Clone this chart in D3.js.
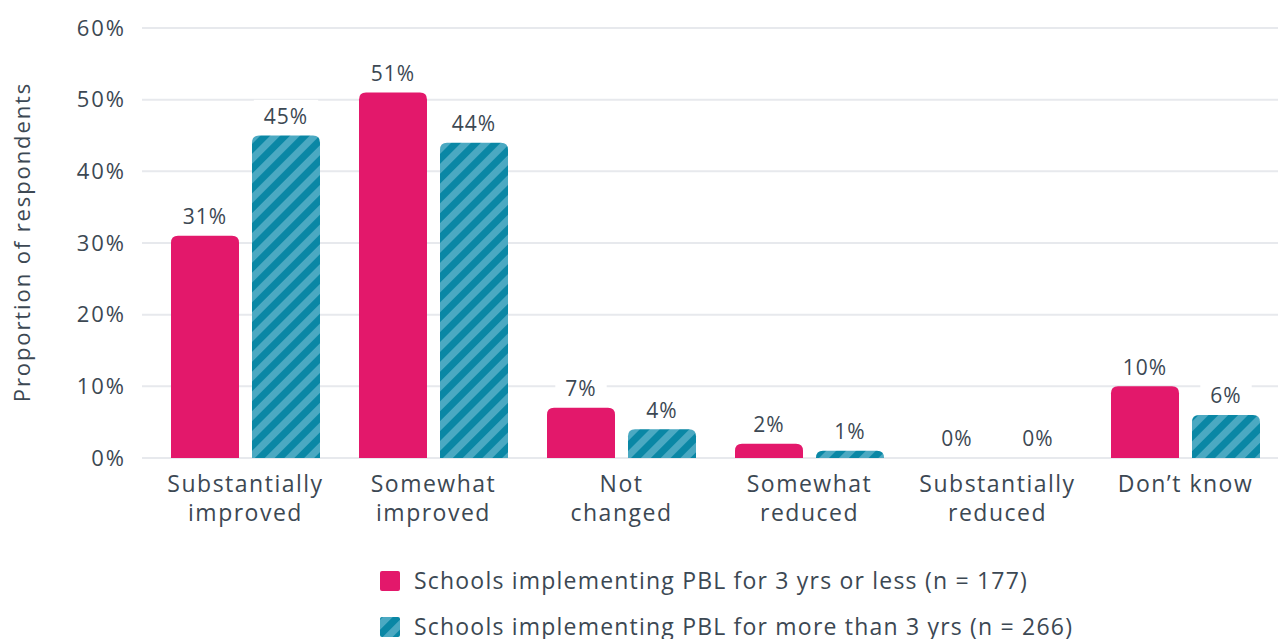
<!DOCTYPE html>
<html>
<head>
<meta charset="utf-8">
<script src="https://cdn.jsdelivr.net/npm/d3@7"></script>
<style>
  html, body { margin: 0; padding: 0; background: #ffffff; }
  svg { display: block; font-family: "Open Sans", "Noto Sans", sans-serif; }
</style>
</head>
<body>
<svg id="chart" width="1278" height="639"></svg>
<script>
// Survey responses by category, one value per school group
const categories = [
  ["Substantially", "improved"],
  ["Somewhat", "improved"],
  ["Not", "changed"],
  ["Somewhat", "reduced"],
  ["Substantially", "reduced"],
  ["Don\u2019t know"]
];
const shortTerm = [31, 51, 7, 2, 0, 10];
const longTerm = [45, 44, 4, 1, 0, 6];
const seriesNames = [
  "Schools implementing PBL for 3 yrs or less (n = 177)",
  "Schools implementing PBL for more than 3 yrs (n = 266)"
];
const yTicks = [0, 10, 20, 30, 40, 50, 60];

const textColor = "#3c4853";
const gridColor = "#e7e9ed";
const pink = "#e3186b";
const tealDark = "#0a87a5";
const tealLight = "#4ba9c2";

const svg = d3.select("#chart");
const margin = { left: 151.5, right: -1.5, top: 28, bottom: 181 };
const W = 1278, H = 639;

const x = d3.scaleBand()
  .domain(d3.range(categories.length))
  .range([margin.left, W - margin.right])
  .paddingInner(0).paddingOuter(0);
const y = d3.scaleLinear().domain([0, 60]).range([H - margin.bottom, margin.top]);

const barW = 68, gap = 13;

// Diagonal stripe fill for the second series
const defs = svg.append("defs");
const period = 14;
const pat = defs.append("pattern")
  .attr("id", "stripes")
  .attr("patternUnits", "userSpaceOnUse")
  .attr("width", period).attr("height", period)
  .attr("patternTransform", "rotate(45)");
pat.append("rect").attr("width", period).attr("height", period).attr("fill", tealLight);
pat.append("rect").attr("width", period / 2).attr("height", period).attr("fill", tealDark);

// Gridlines and y tick labels
const gridX0 = 142;
svg.append("g").selectAll("line").data(yTicks).join("line")
  .attr("x1", gridX0).attr("x2", W)
  .attr("y1", d => y(d)).attr("y2", d => y(d))
  .attr("stroke", gridColor).attr("stroke-width", 2);
svg.append("g").selectAll("text").data(yTicks).join("text")
  .attr("x", 126).attr("y", d => y(d))
  .attr("dy", "0.35em")
  .attr("text-anchor", "end")
  .attr("fill", textColor)
  .attr("font-size", 22)
  .attr("letter-spacing", 2)
  .text(d => d + "%");

// Y axis title
svg.append("text")
  .attr("transform", `translate(30, 242) rotate(-90)`)
  .attr("text-anchor", "middle")
  .attr("fill", textColor)
  .attr("font-size", 22)
  .attr("letter-spacing", 1.9)
  .text("Proportion of respondents");

// Bar path with rounded top corners
function topRounded(x0, y0, w, h, r) {
  r = Math.min(r, h, w / 2);
  if (h <= 0) return "";
  return `M${x0},${y0 + h}V${y0 + r}Q${x0},${y0} ${x0 + r},${y0}H${x0 + w - r}Q${x0 + w},${y0} ${x0 + w},${y0 + r}V${y0 + h}Z`;
}

const groups = categories.map((c, i) => ({ i, values: [shortTerm[i], longTerm[i]] }));
const fills = [pink, "url(#stripes)"];

const g = svg.append("g");
groups.forEach(grp => {
  const cx = x(grp.i) + x.bandwidth() / 2;
  grp.values.forEach((v, s) => {
    const bx = s === 0 ? cx - gap / 2 - barW : cx + gap / 2;
    const top = y(v);
    g.append("path")
      .attr("d", topRounded(bx, top, barW, y(0) - top, 7))
      .attr("fill", fills[s]);
    // value label with white backing box
    const lbl = g.append("g").attr("transform", `translate(${bx + barW / 2}, ${top - 19})`);
    const t = lbl.append("text")
      .attr("text-anchor", "middle")
      .attr("dy", "0.35em")
      .attr("fill", textColor)
      .attr("font-size", 21)
      .attr("letter-spacing", 1)
      .text(v + "%");
    const bb = t.node().getBBox();
    lbl.insert("rect", "text")
      .attr("x", bb.x - 10).attr("y", bb.y - 2)
      .attr("width", bb.width + 20).attr("height", bb.height + 4)
      .attr("fill", "#ffffff");
  });
  // category label
  const ct = svg.append("text")
    .attr("text-anchor", "middle")
    .attr("fill", textColor)
    .attr("font-size", 23)
    .attr("letter-spacing", 1.5);
  categories[grp.i].forEach((line, k) => {
    ct.append("tspan").attr("x", cx).attr("y", 492 + k * 29).text(line);
  });
});

// Legend
const legend = svg.append("g");
seriesNames.forEach((name, s) => {
  const ly = 581 + s * 46;
  legend.append("rect")
    .attr("x", 380).attr("y", ly - 10)
    .attr("width", 20).attr("height", 20)
    .attr("rx", 2)
    .attr("fill", s === 0 ? pink : "url(#stripes)");
  legend.append("text")
    .attr("x", 414).attr("y", ly)
    .attr("dy", "0.35em")
    .attr("fill", textColor)
    .attr("font-size", 23)
    .attr("letter-spacing", 1.2)
    .text(name);
});
</script>
</body>
</html>
